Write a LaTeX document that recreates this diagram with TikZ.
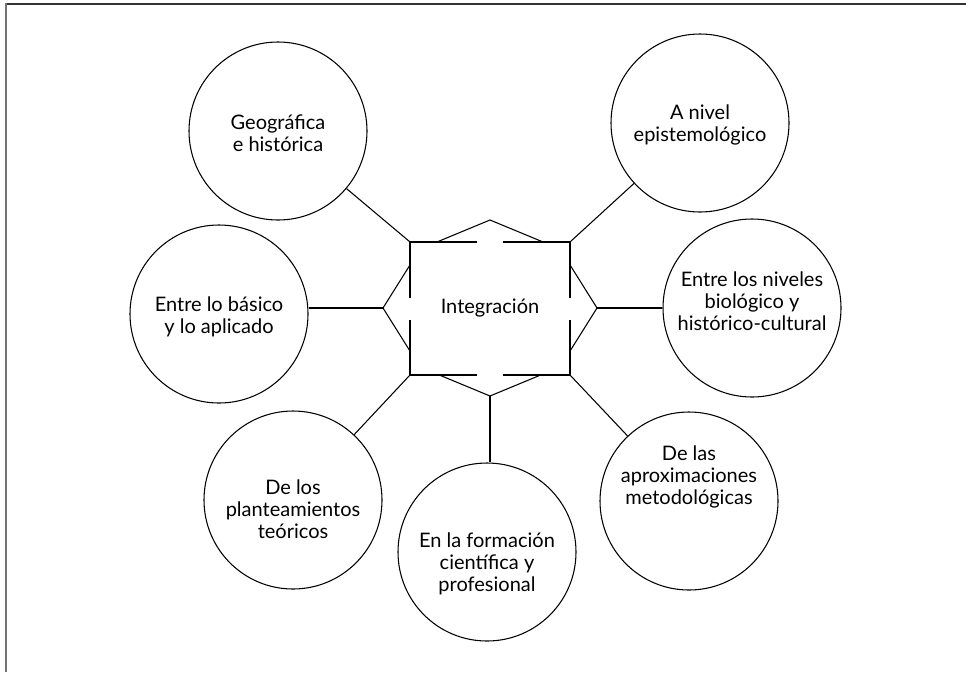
\documentclass[tikz,border=0pt]{standalone}
\usepackage{fontspec}
\setmainfont{Lato}
\usetikzlibrary{calc}

\tikzset{
every node/.style={font=\fontsize{15}{16.5}\selectfont},
topic/.style={circle,draw,line width=0.8pt,minimum size=133.5pt,inner sep=0pt},
words/.style={align=center,inner sep=0pt},
centre/.style={rectangle,fill=white,minimum width=120pt,minimum height=99.75pt,inner sep=0pt},
link/.style={line width=0.8pt},
cut/.style={line width=1.3pt}
}

\begin{document}
\begin{tikzpicture}[x=0.75pt,y=-0.75pt]
\useasboundingbox (0,0) rectangle (966,672);

% frame at the top and on the left
\draw[black!80,line width=1.5pt] (5,3.5) -- (966,3.5);
\draw[black!55,line width=1.8pt] (6,3) -- (6,672);

% the hexagon behind the middle box
\coordinate (h1) at (490,220);
\coordinate (h2) at (560,249);
\coordinate (h3) at (597,308);
\coordinate (h4) at (560,367);
\coordinate (h5) at (490,396);
\coordinate (h6) at (420,367);
\coordinate (h7) at (383,308);
\coordinate (h8) at (420,249);
\draw[link] (h1) -- (h2) -- (h3) -- (h4) -- (h5) -- (h6) -- (h7) -- (h8) -- cycle;

% the middle box, open in the middle of each side
\node[centre] (int) at (490,308.5) {Integración};
\draw[cut] ($(int.north)+(-13,0)$) -| ($(int.west)+(0,-11)$);
\draw[cut] ($(int.north)+(13,0)$) -| ($(int.east)+(0,-11)$);
\draw[cut] ($(int.south)+(-13,0)$) -| ($(int.west)+(0,11)$);
\draw[cut] ($(int.south)+(13,0)$) -| ($(int.east)+(0,11)$);

% the circles round it
\node[topic] (geo) at (278,131) {};
\node[topic] (epi) at (700,123) {};
\node[topic] (bas) at (219,314) {};
\node[topic] (niv) at (752,308) {};
\node[topic] (teo) at (293,500) {};
\node[topic] (for) at (487,552) {};
\node[topic] (met) at (689,501) {};

% their texts
\node[words] (geo-t) at ($(geo)+(0,2)$) {Geográfica\\e histórica};
\node[words] (epi-t) at ($(epi)+(0,2)$) {A nivel\\epistemológico};
\node[words] (bas-t) at ($(bas)+(0,3)$) {Entre lo básico\\y lo aplicado};
\node[words] (niv-t) at ($(niv)+(0,-7)$) {Entre los niveles\\biológico y\\histórico-cultural};
\node[words] (teo-t) at ($(teo)+(0,9)$) {De los\\planteamientos\\teóricos};
\node[words] (for-t) at ($(for)+(0,12)$) {En la formación\\científica y\\profesional};
\node[words] (met-t) at ($(met)+(0,-24)$) {De las\\aproximaciones\\metodológicas};

% lines from the middle to each circle
\draw[link] (int.north west) -- (geo);
\draw[link] (int.north east) -- (epi);
\draw[link] (h7) -- (h7 -| bas.east);
\draw[link] (h3) -- (niv);
\draw[link] (int.south west) -- (teo);
\draw[link] (int.south east) -- (met);
\draw[link] (h5) -- (h5 |- for.north);
\end{tikzpicture}
\end{document}
